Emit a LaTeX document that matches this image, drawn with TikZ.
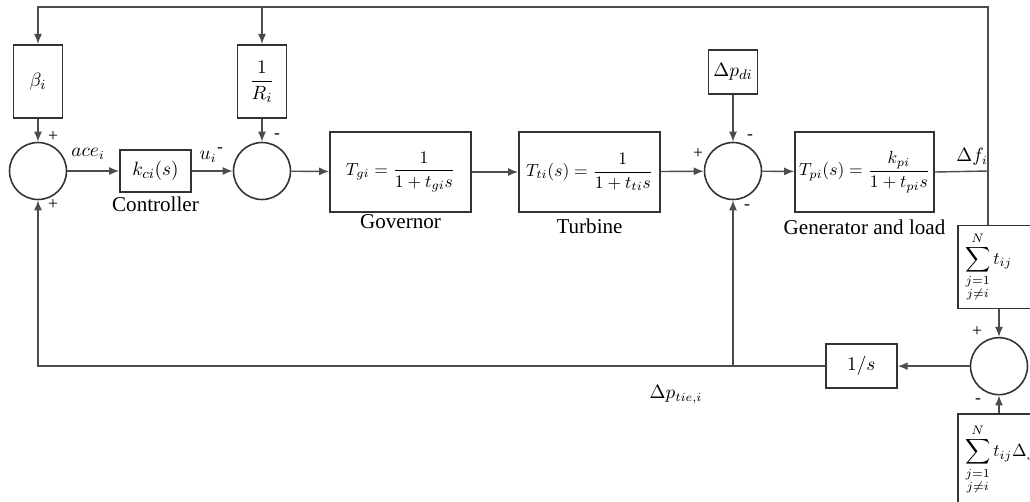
\documentclass[tikz,border=0pt]{standalone}
\usepackage{amsmath,amssymb}
\usepackage{fontspec}
\setmainfont{Liberation Serif}
\usetikzlibrary{positioning,arrows.meta}
\tikzset{
blk/.style={draw=black!80,line width=1pt,fill=white,inner sep=2pt,font=\fontsize{11}{13}\selectfont},
tfblk/.style={blk,minimum width=2.82cm,minimum height=1.6cm,inner sep=1pt,font=\fontsize{10}{12}\selectfont},
sumnode/.style={draw=black!80,line width=0.9pt,circle,minimum size=1.14cm,inner sep=0pt},
sumbox/.style={blk,minimum width=1.64cm,text width=1.36cm,inner xsep=4pt,align=left,font=\fontsize{10}{12}\selectfont},
sgn/.style={font=\fontsize{10}{12}\selectfont,inner sep=0pt},
caption/.style={font=\fontsize{12}{14}\selectfont,inner sep=1pt},
sig/.style={font=\fontsize{10.5}{12}\selectfont,inner sep=1pt},
wire/.style={draw=black!70,line width=0.8pt},
flow/.style={wire,-{Latex[length=2mm,width=1.6mm]}}
}
\begin{document}
\begin{tikzpicture}[x=0.02cm,y=-0.02cm]
\useasboundingbox (0,0) rectangle (1030,501);
\clip (0,0) rectangle (1030,501);
% forward path
\node[sumnode] (s1) at (38,171) {};
\node[blk,minimum width=1.42cm,minimum height=0.84cm] (ctrl) at (155.5,171) {$k_{ci}(s)$};
\node[sumnode] (s2) at (262,171) {};
\node[tfblk] (gov) at (400.5,172) {$T_{gi}=\dfrac{1}{1+t_{gi}s}$};
\node[tfblk] (turb) at (589.5,172) {$T_{ti}(s)=\dfrac{1}{1+t_{ti}s}$};
\node[sumnode] (s3) at (733,171) {};
\node[tfblk,minimum width=2.78cm] (gen) at (864.5,172) {$T_{pi}(s)=\dfrac{k_{pi}}{1+t_{pi}s}$};
% feedback gains and disturbance
\node[blk,minimum width=0.98cm,minimum height=1.46cm,above=0.46cm of s1] (beta) {$\beta_i$};
\node[blk,minimum width=0.98cm,minimum height=1.46cm,above=0.46cm of s2] (invR) {$\dfrac{1}{R_i}$};
\node[blk,minimum width=0.98cm,minimum height=0.88cm,above=0.94cm of s3] (pd) {$\Delta p_{di}$};
% tie-line part
\coordinate (fj) at (988,171);
\coordinate (top) at (988,7);
\node[sumbox,minimum height=1.66cm] (tf) at (999,267) {$\displaystyle\sum_{\substack{j=1\\ j\neq i}}^{N} t_{ij}$};
\node[sumnode,below=0.55cm of tf] (s4) {};
\node[sumbox,minimum height=1.8cm,below=0.36cm of s4] (tdf) {$\displaystyle\sum_{\substack{j=1\\ j\neq i}}^{N} t_{ij}\Delta f_j$};
\node[blk,minimum width=1.42cm,minimum height=0.88cm,left=1.44cm of s4] (inte) {$1/s$};
% captions
\node[caption,below=1pt of ctrl] (ctrlcap) {Controller};
\node[caption,below=0pt of gov] (govcap) {Governor};
\node[caption,below=2pt of turb] (turbcap) {Turbine};
\node[caption,below=3pt of gen] (gencap) {Generator and load};
% signal names
\node[sig] (ace) at (88,154) {$ace_i$};
\node[sig] (ui) at (208,157) {$u_i$};
\node[sig] (df) at (972,157) {$\Delta f_i$};
\node[sig] (ptie) at (676,395) {$\Delta p_{tie,i}$};
% signs
\node[sgn] (sg1) at (53,137) {+};
\node[sgn] (sg2) at (53,205) {+};
\node[sgn] (sg3) at (220,150) {-};
\node[sgn] (sg4) at (277,136) {-};
\node[sgn] (sg5) at (698,154) {+};
\node[sgn] (sg6) at (750,137) {-};
\node[sgn] (sg7) at (747,207) {-};
\node[sgn] (sg8) at (977,332) {+};
\node[sgn] (sg9) at (978,401) {-};
% connectors
\draw[flow] (s1) -- (ctrl);
\draw[flow] (ctrl) -- (s2);
\draw[flow] (s2) -- (gov);
\draw[flow] (gov) -- (turb);
\draw[flow] (turb) -- (s3);
\draw[flow] (s3) -- (gen);
\draw[flow] (beta) -- (s1);
\draw[flow] (invR) -- (s2);
\draw[flow] (pd) -- (s3);
\draw[wire] (gen.east) -- (fj);
\draw[wire] (fj) -- (tf.north -| fj);
\draw[flow] (fj) -- (top) -| (beta.north);
\draw[flow] (invR.north |- top) -- (invR.north);
\draw[flow] (tf) -- (s4);
\draw[flow] (tdf) -- (s4);
\draw[flow] (s4) -- (inte);
\draw[flow] (inte.west) -| (s1.south);
\draw[flow] (s3.south |- inte.west) -- (s3.south);
\end{tikzpicture}
\end{document}
